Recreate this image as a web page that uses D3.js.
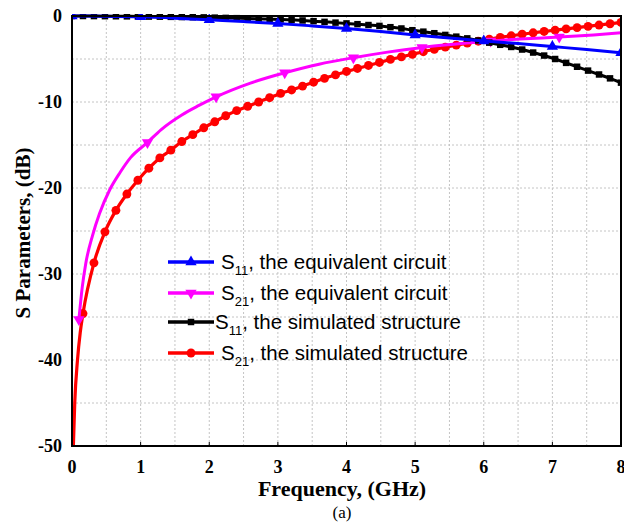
<!DOCTYPE html>
<html>
<head>
<meta charset="utf-8">
<script src="https://cdn.jsdelivr.net/npm/d3@7"></script>
<style>
  html, body { margin: 0; padding: 0; background: #fff; }
  svg { display: block; }
</style>
</head>
<body>
<div id="container"></div>
<script>
// --- Data ---
const xTicks = [0, 1, 2, 3, 4, 5, 6, 7, 8];
const yTicks = [0, -10, -20, -30, -40, -50];

// S11, equivalent circuit (markers at whole GHz)
const s11EqF  = [0, 0.5, 1, 1.5, 2, 2.5, 3, 3.5, 4, 4.5, 5, 5.5, 6, 6.5, 7, 7.5, 8];
const s11EqDb = [0, -0.03, -0.1, -0.25, -0.45, -0.65, -0.87, -1.15, -1.45, -1.8, -2.2, -2.55, -2.9, -3.2, -3.55, -3.9, -4.27];
const s11EqMarkF = [0, 1, 2, 3, 4, 5, 6, 7, 8];

// S21, equivalent circuit (markers at 0.1, 1.1, ... 7.1)
const s21EqF  = [0.1, 0.15, 0.2, 0.3, 0.4, 0.55, 0.7, 0.85, 1.1, 1.3, 1.6, 1.85, 2.1, 2.6, 3.1, 3.6, 4.1, 4.6, 5.1, 5.6, 6.1, 6.6, 7.1, 7.6, 8.0];
const s21EqDb = [-35.3, -31.5, -28.8, -25.5, -23, -20.2, -18.2, -16.5, -14.7, -13.2, -11.5, -10.4, -9.4, -7.8, -6.6, -5.6, -4.85, -4.2, -3.65, -3.25, -2.9, -2.65, -2.45, -2.2, -1.95];
const s21EqMarkF = [0.1, 1.1, 2.1, 3.1, 4.1, 5.1, 6.1, 7.1];

// simulated structure, sampled every 0.16 GHz
const simF = d3.range(0, 51).map(i => +(i * 0.16).toFixed(2));
const s11SimDb = [0, 0, -0.01, -0.02, -0.03, -0.04, -0.05, -0.07, -0.08, -0.1, -0.12,
  -0.14, -0.16, -0.19, -0.22, -0.25, -0.28, -0.32, -0.36, -0.4, -0.46,
  -0.52, -0.6, -0.68, -0.77, -0.86, -0.95, -1.05, -1.15, -1.3, -1.45,
  -1.65, -1.82, -2.0, -2.2, -2.4, -2.6, -2.85, -3.1, -3.35, -3.6,
  -3.9, -4.25, -4.6, -5.0, -5.45, -5.9, -6.35, -6.8, -7.25, -7.75];
const s21SimDb = [-50, -34.6, -28.7, -25.1, -22.6, -20.7, -19.1, -17.7, -16.5, -15.6, -14.6,
  -13.8, -13.0, -12.3, -11.6, -11.0, -10.5, -10.0, -9.5, -9.0, -8.6,
  -8.15, -7.7, -7.25, -6.85, -6.45, -6.1, -5.75, -5.4, -5.05, -4.75,
  -4.45, -4.15, -3.88, -3.62, -3.38, -3.15, -2.93, -2.7, -2.48, -2.3,
  -2.12, -1.95, -1.8, -1.65, -1.5, -1.35, -1.2, -1.05, -0.9, -0.75];
// steep rise of the simulated S21 below the first marker
const s21SimLowF  = [0.02, 0.04, 0.08, 0.12];
const s21SimLowDb = [-50, -45, -40, -36.8];

const legendItems = [
  { sub: "11", text: ", the equivalent circuit", color: "#0000ff", marker: "triangle" },
  { sub: "21", text: ", the equivalent circuit", color: "#ff00ff", marker: "triangleDown" },
  { sub: "11", text: ", the simulated structure", color: "#000000", marker: "square" },
  { sub: "21", text: ", the simulated structure", color: "#ff0000", marker: "circle" },
];

// --- Layout ---
const width = 624, height = 524;
const margin = { top: 16, right: 3, bottom: 78, left: 72 };
const iw = width - margin.left - margin.right;
const ih = height - margin.top - margin.bottom;

const svg = d3.select("#container").append("svg")
  .attr("width", width).attr("height", height);
const g = svg.append("g").attr("transform", `translate(${margin.left},${margin.top})`);

const x = d3.scaleLinear().domain([0, 8]).range([0, iw]);
const y = d3.scaleLinear().domain([-50, 0]).range([ih, 0]);

const defs = svg.append("defs");
defs.append("clipPath").attr("id", "plot-clip")
  .append("rect").attr("x", 0).attr("y", -2).attr("width", iw).attr("height", ih + 2);

// --- Grid (dotted, every 0.5 GHz and 5 dB) ---
const grid = g.append("g");
d3.range(0.5, 8, 0.5).forEach(v => {
  grid.append("line")
    .attr("x1", x(v)).attr("x2", x(v)).attr("y1", 0).attr("y2", ih)
    .attr("stroke", "#c4c4c4").attr("stroke-width", 1).attr("stroke-dasharray", "2,2");
});
d3.range(-45, 0, 5).forEach(v => {
  grid.append("line")
    .attr("x1", 0).attr("x2", iw).attr("y1", y(v)).attr("y2", y(v))
    .attr("stroke", "#c4c4c4").attr("stroke-width", 1).attr("stroke-dasharray", "2,2");
});

// --- Marker shapes ---
const symbolFor = {
  triangle: d3.symbol().type(d3.symbolTriangle).size(55),
  triangleDown: d3.symbol().type(d3.symbolTriangle).size(55),
  square: d3.symbol().type(d3.symbolSquare).size(42),
  circle: d3.symbol().type(d3.symbolCircle).size(62),
};
const rotFor = { triangle: 0, triangleDown: 180, square: 0, circle: 0 };

function drawMarkers(layer, pts, kind, color) {
  layer.selectAll(null).data(pts).join("path")
    .attr("d", symbolFor[kind]())
    .attr("transform", d => `translate(${x(d[0])},${y(d[1])}) rotate(${rotFor[kind]})`)
    .attr("fill", color);
}

const line = d3.line().x(d => x(d[0])).y(d => y(d[1])).curve(d3.curveMonotoneX);
const plot = g.append("g").attr("clip-path", "url(#plot-clip)");

// S21 simulated (red)
const redPts = s21SimLowF.map((f, i) => [f, s21SimLowDb[i]])
  .concat(simF.slice(1).map((f, i) => [f, s21SimDb[i + 1]]));
plot.append("path").datum(redPts).attr("d", line)
  .attr("fill", "none").attr("stroke", "#ff0000").attr("stroke-width", 3.2);
drawMarkers(plot, simF.slice(1).map((f, i) => [f, s21SimDb[i + 1]]), "circle", "#ff0000");

// S21 equivalent (magenta)
const magPts = s21EqF.map((f, i) => [f, s21EqDb[i]]);
plot.append("path").datum(magPts).attr("d", line)
  .attr("fill", "none").attr("stroke", "#ff00ff").attr("stroke-width", 3);
drawMarkers(plot, s21EqMarkF.map(f => [f, s21EqDb[s21EqF.indexOf(f)]]), "triangleDown", "#ff00ff");

// S11 simulated (black)
const blkPts = simF.map((f, i) => [f, s11SimDb[i]]);
plot.append("path").datum(blkPts).attr("d", line)
  .attr("fill", "none").attr("stroke", "#000000").attr("stroke-width", 3);
drawMarkers(plot, blkPts, "square", "#000000");

// S11 equivalent (blue)
const bluPts = s11EqF.map((f, i) => [f, s11EqDb[i]]);
plot.append("path").datum(bluPts).attr("d", line)
  .attr("fill", "none").attr("stroke", "#0000ff").attr("stroke-width", 3);
drawMarkers(plot, s11EqMarkF.map(f => [f, s11EqDb[s11EqF.indexOf(f)]]), "triangle", "#0000ff");

// --- Frame and inward ticks ---
g.append("rect").attr("x", 0).attr("y", 0).attr("width", iw).attr("height", ih)
  .attr("fill", "none").attr("stroke", "#000").attr("stroke-width", 2);
xTicks.forEach(v => {
  g.append("line").attr("x1", x(v)).attr("x2", x(v)).attr("y1", ih).attr("y2", ih - 4)
    .attr("stroke", "#000").attr("stroke-width", 1);
});

// --- Tick labels ---
const serif = "'Liberation Serif', 'Times New Roman', serif";
g.selectAll("text.xt").data(xTicks).join("text")
  .attr("class", "xt")
  .attr("x", d => x(d)).attr("y", ih + 27)
  .attr("text-anchor", "middle")
  .style("font-family", serif).style("font-weight", "bold").style("font-size", "18px")
  .text(d => d);
g.selectAll("text.yt").data(yTicks).join("text")
  .attr("class", "yt")
  .attr("x", -10).attr("y", d => y(d)).attr("dy", "0.33em")
  .attr("text-anchor", "end")
  .style("font-family", serif).style("font-weight", "bold").style("font-size", "18px")
  .text(d => d);

// --- Axis titles ---
svg.append("text")
  .attr("x", 342).attr("y", 496)
  .attr("text-anchor", "middle")
  .style("font-family", serif).style("font-weight", "bold").style("font-size", "22px")
  .text("Frequency, (GHz)");
svg.append("text")
  .attr("x", 342).attr("y", 518)
  .attr("text-anchor", "middle")
  .style("font-family", serif).style("font-size", "17px")
  .text("(a)");
svg.append("text")
  .attr("transform", `translate(30,${margin.top + ih / 2 + 2}) rotate(-90)`)
  .attr("text-anchor", "middle")
  .style("font-family", serif).style("font-weight", "bold").style("font-size", "21px")
  .text("S Parameters, (dB)");

// --- Legend (no box) ---
const sans = "'Liberation Sans', Arial, sans-serif";
const legRows = [262, 293, 322, 353];
legendItems.forEach((it, i) => {
  const ly = legRows[i];
  svg.append("line").attr("x1", 168).attr("x2", 214).attr("y1", ly).attr("y2", ly)
    .attr("stroke", it.color).attr("stroke-width", 3.5);
  svg.append("path").attr("d", symbolFor[it.marker]())
    .attr("transform", `translate(191,${ly}) rotate(${rotFor[it.marker]})`)
    .attr("fill", it.color);
  const t = svg.append("text")
    .attr("x", i === 2 ? 215 : 221).attr("y", ly + 7)
    .style("font-family", sans).style("font-size", "20.5px").attr("fill", "#000");
  t.append("tspan").text("S");
  t.append("tspan").attr("dy", 6).style("font-size", "13px").text(it.sub);
  t.append("tspan").attr("dy", -6).text(it.text);
});
</script>
</body>
</html>
